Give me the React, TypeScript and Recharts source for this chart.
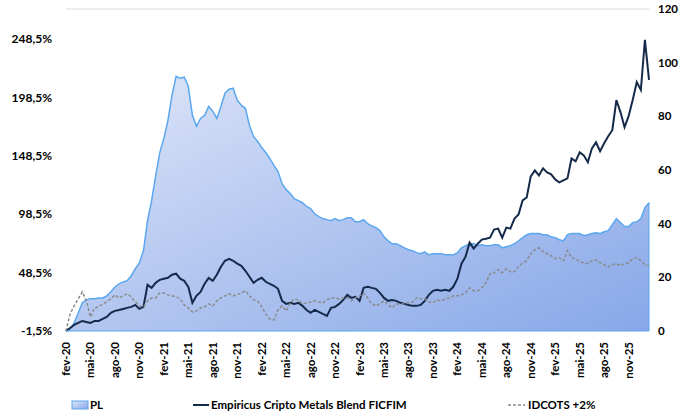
import { Area, ComposedChart, Line, ReferenceLine, XAxis, YAxis } from 'recharts';

// tick labels on the date axis, one every 3 months (fev-20 .. nov-25)
const TICK_LABELS = [
  'fev-20', 'mai-20', 'ago-20', 'nov-20',
  'fev-21', 'mai-21', 'ago-21', 'nov-21',
  'fev-22', 'mai-22', 'ago-22', 'nov-22',
  'fev-23', 'mai-23', 'ago-23', 'nov-23',
  'fev-24', 'mai-24', 'ago-24', 'nov-24',
  'fev-25', 'mai-25', 'ago-25', 'nov-25',
];

// half-month samples, starting fev-20
// PL (right axis)
const PL = [
  0, 0.7, 3.0, 6.7, 10.5, 11.6, 12.0, 12.0, 12.3, 12.3,
  13.1, 14.6, 16.4, 17.6, 18.3, 18.7, 20.6, 23.2, 25.4, 29.9,
  41.1, 48.6, 57.9, 66.5, 71.8, 78.5, 87.8, 94.9, 94.2, 94.6,
  91.2, 80.4, 76.3, 79.2, 80.4, 83.7, 81.9, 79.2, 83.7, 88.6,
  90.1, 90.5, 86.0, 84.1, 83.0, 76.6, 72.5, 70.6, 68.4, 66.5,
  64.3, 61.7, 59.4, 54.9, 52.7, 51.2, 49.3, 48.6, 47.8, 46.4,
  45.6, 43.7, 42.6, 41.9, 41.5, 41.1, 41.9, 41.1, 41.5, 42.2,
  42.2, 40.7, 40.7, 41.5, 40.0, 39.2, 38.5, 37.4, 35.1, 33.6,
  32.5, 32.5, 31.8, 31.0, 30.3, 29.9, 29.2, 28.8, 29.5, 28.4,
  28.8, 28.8, 28.8, 28.4, 28.4, 28.4, 29.2, 31.0, 31.8, 32.5,
  32.5, 31.8, 32.1, 31.8, 31.8, 32.1, 32.1, 31.0, 31.4, 31.8,
  32.5, 33.6, 34.8, 35.9, 36.3, 36.3, 36.3, 35.9, 35.9, 35.1,
  34.8, 34.0, 33.6, 35.9, 36.3, 36.3, 36.3, 35.5, 35.9, 36.3,
  36.6, 36.3, 37.0, 37.4, 39.6, 41.9, 40.4, 38.9, 38.9, 40.4,
  40.7, 41.9, 46.0, 47.8,
];

// Empiricus Cripto Metals Blend FICFIM, accumulated % (left axis)
const FUND = [
  -1.5, 1.1, 3.7, 5.4, 7.1, 6.2, 5.4, 7.1, 7.1, 8.8,
  10.5, 14.0, 15.7, 16.5, 17.4, 18.3, 19.1, 20.8, 17.4, 19.1,
  38.0, 35.4, 39.7, 42.3, 43.2, 44.0, 46.6, 47.5, 43.2, 41.5,
  36.3, 22.6, 28.6, 32.0, 38.9, 44.0, 41.5, 46.6, 53.5, 58.6,
  60.3, 58.6, 56.1, 54.3, 50.0, 44.9, 39.7, 42.3, 44.0, 40.6,
  38.9, 37.2, 34.6, 24.3, 21.7, 22.6, 21.7, 22.6, 20.0, 16.5,
  14.0, 16.5, 14.8, 13.1, 11.4, 18.3, 19.1, 21.7, 25.1, 29.4,
  26.8, 27.7, 24.3, 35.4, 36.3, 35.4, 34.6, 31.1, 26.8, 24.3,
  25.1, 24.3, 22.6, 21.7, 20.8, 20.0, 20.0, 20.8, 24.3, 29.4,
  32.9, 33.7, 32.9, 33.7, 32.9, 36.3, 43.2, 56.1, 62.1, 74.1,
  69.0, 73.2, 76.7, 77.5, 78.4, 85.3, 86.1, 78.4, 87.0, 86.1,
  94.7, 98.1, 110.2, 112.7, 130.8, 135.9, 131.6, 137.7, 134.2, 132.5,
  128.2, 125.6, 127.4, 129.1, 146.2, 143.7, 151.4, 148.8, 142.8, 154.8,
  160.0, 152.3, 159.1, 165.1, 170.3, 196.1, 185.8, 172.9, 182.3, 196.1,
  211.5, 204.7, 247.6, 213.3,
];

// IDCOTS +2%, accumulated % (left axis)
const BENCH = [
  -1.5, 13.1, 20.0, 26.0, 32.0, 24.3, 10.5, 18.3, 19.1, 21.7,
  23.4, 26.0, 29.4, 26.8, 28.6, 30.3, 27.7, 23.4, 20.0, 19.1,
  24.3, 26.8, 26.8, 31.1, 31.1, 29.4, 28.6, 27.7, 26.0, 20.8,
  18.3, 14.8, 15.7, 18.3, 19.1, 21.7, 20.0, 24.3, 26.8, 28.6,
  30.3, 28.6, 29.4, 31.1, 32.9, 28.6, 25.1, 24.3, 19.1, 13.1,
  8.8, 7.9, 16.5, 20.0, 15.7, 22.6, 26.0, 25.1, 21.7, 22.6,
  23.4, 24.3, 23.4, 22.6, 25.1, 26.8, 26.8, 26.0, 26.8, 26.8,
  24.3, 26.8, 28.6, 31.1, 26.8, 21.7, 20.0, 21.7, 24.3, 20.8,
  18.3, 21.7, 21.7, 21.7, 22.6, 23.4, 26.8, 26.0, 26.0, 23.4,
  22.6, 25.1, 24.3, 26.0, 26.8, 28.6, 28.6, 29.4, 31.1, 35.4,
  32.9, 32.9, 35.4, 39.7, 47.5, 48.3, 50.9, 48.3, 51.8, 49.2,
  49.2, 53.5, 56.9, 58.6, 64.6, 68.1, 69.8, 66.4, 64.6, 62.9,
  60.3, 61.2, 58.6, 67.2, 61.2, 60.3, 57.8, 56.9, 56.1, 58.6,
  59.5, 56.9, 55.2, 53.5, 55.2, 56.1, 54.3, 56.1, 56.9, 60.3,
  61.2, 58.6, 55.2, 54.3,
];

const LEFT_TICKS = [-1.5, 48.5, 98.5, 148.5, 198.5, 248.5];
const RIGHT_TICKS = [0, 20, 40, 60, 80, 100, 120];

const data = PL.map((pl, i) => ({ t: i / 2, pl, fund: FUND[i], bench: BENCH[i] }));
const X_TICKS = TICK_LABELS.map((_, i) => i * 3);
const LAST_T = data[data.length - 1].t;

const FONT = 'Lato, "Liberation Sans", Arial, sans-serif';
const PL_STROKE = '#5ba7ef';
const FUND_COLOR = '#15294a';
const BENCH_COLOR = '#8a8a8a';

function MonthTick({ x, y, payload }: any) {
  return (
    <g transform={`translate(${x},${y})`}>
      <text
        transform="rotate(-90)"
        x={-3}
        y={0}
        dy="0.35em"
        textAnchor="end"
        fontSize={11.5}
        fontWeight="bold"
        fontFamily={FONT}
        fill="#000"
      >
        {TICK_LABELS[Math.round(payload.value / 3)]}
      </text>
    </g>
  );
}

const pct = (v: number) => v.toFixed(1).replace('.', ',') + '%';

export default function App() {
  return (
    <div style={{ position: 'absolute', left: 0, top: 0, width: 689, height: 414, background: '#fff', fontFamily: FONT }}>
      <ComposedChart width={689} height={414} data={data} margin={{ top: 9, right: 0, bottom: 0, left: 0 }}>
        <defs>
          <linearGradient id="plFill" x1="0" y1="0" x2="1" y2="1">
            <stop offset="0%" stopColor="#dfe6f8" />
            <stop offset="100%" stopColor="#87a7e8" />
          </linearGradient>
        </defs>
        <XAxis
          dataKey="t"
          type="number"
          domain={[0, LAST_T]}
          ticks={X_TICKS}
          interval={0}
          tick={<MonthTick />}
          tickLine={false}
          axisLine={{ stroke: PL_STROKE }}
          height={83}
        />
        <YAxis
          yAxisId="ret"
          orientation="left"
          domain={[-1.5, 274]}
          ticks={LEFT_TICKS}
          tickFormatter={pct}
          tick={{ fill: '#000', fontSize: 12, fontWeight: 'bold', fontFamily: FONT }}
          tickMargin={8}
          axisLine={false}
          tickLine={false}
          width={66}
        />
        <YAxis
          yAxisId="pl"
          orientation="right"
          domain={[0, 120]}
          ticks={RIGHT_TICKS}
          tick={{ fill: '#000', fontSize: 11.5, fontWeight: 'bold', fontFamily: FONT, textAnchor: 'start' }}
          tickMargin={3}
          axisLine={false}
          tickLine={false}
          width={40}
        />
        <ReferenceLine yAxisId="pl" y={120} stroke="#d9d9d9" strokeWidth={1} />
        <Area
          yAxisId="pl"
          type="linear"
          dataKey="pl"
          stroke={PL_STROKE}
          strokeWidth={1.5}
          fill="url(#plFill)"
          fillOpacity={1}
          dot={false}
          activeDot={false}
          isAnimationActive={false}
        />
        <ReferenceLine
          yAxisId="pl"
          segment={[{ x: LAST_T, y: 0 }, { x: LAST_T, y: PL[PL.length - 1] }]}
          stroke={PL_STROKE}
          strokeWidth={1}
        />
        <Line
          yAxisId="ret"
          type="linear"
          dataKey="fund"
          stroke={FUND_COLOR}
          strokeWidth={2}
          dot={false}
          activeDot={false}
          isAnimationActive={false}
        />
        <Line
          yAxisId="ret"
          type="linear"
          dataKey="bench"
          stroke={BENCH_COLOR}
          strokeWidth={1.5}
          strokeDasharray="3 2"
          dot={false}
          activeDot={false}
          isAnimationActive={false}
        />
      </ComposedChart>

      {/* Legend */}
      <svg width={689} height={18} style={{ position: 'absolute', left: 0, top: 396 }}>
        <rect x={72} y={5} width={16} height={8} fill="url(#legendFill)" stroke={PL_STROKE} strokeWidth={1} />
        <defs>
          <linearGradient id="legendFill" x1="0" y1="0" x2="1" y2="1">
            <stop offset="0%" stopColor="#dfe6f8" />
            <stop offset="100%" stopColor="#87a7e8" />
          </linearGradient>
        </defs>
        <text x={90} y={9} dy="0.35em" fontSize={11.5} fontWeight="bold" fontFamily={FONT} fill="#000">PL</text>
        <line x1={193} x2={209} y1={9} y2={9} stroke={FUND_COLOR} strokeWidth={2} />
        <text x={211} y={9} dy="0.35em" fontSize={11.5} fontWeight="bold" fontFamily={FONT} fill="#000">
          Empiricus Cripto Metals Blend FICFIM
        </text>
        <line x1={508} x2={525} y1={9} y2={9} stroke={BENCH_COLOR} strokeWidth={1.5} strokeDasharray="3 2" />
        <text x={528} y={9} dy="0.35em" fontSize={11.5} fontWeight="bold" fontFamily={FONT} fill="#000">
          IDCOTS +2%
        </text>
      </svg>
    </div>
  );
}
